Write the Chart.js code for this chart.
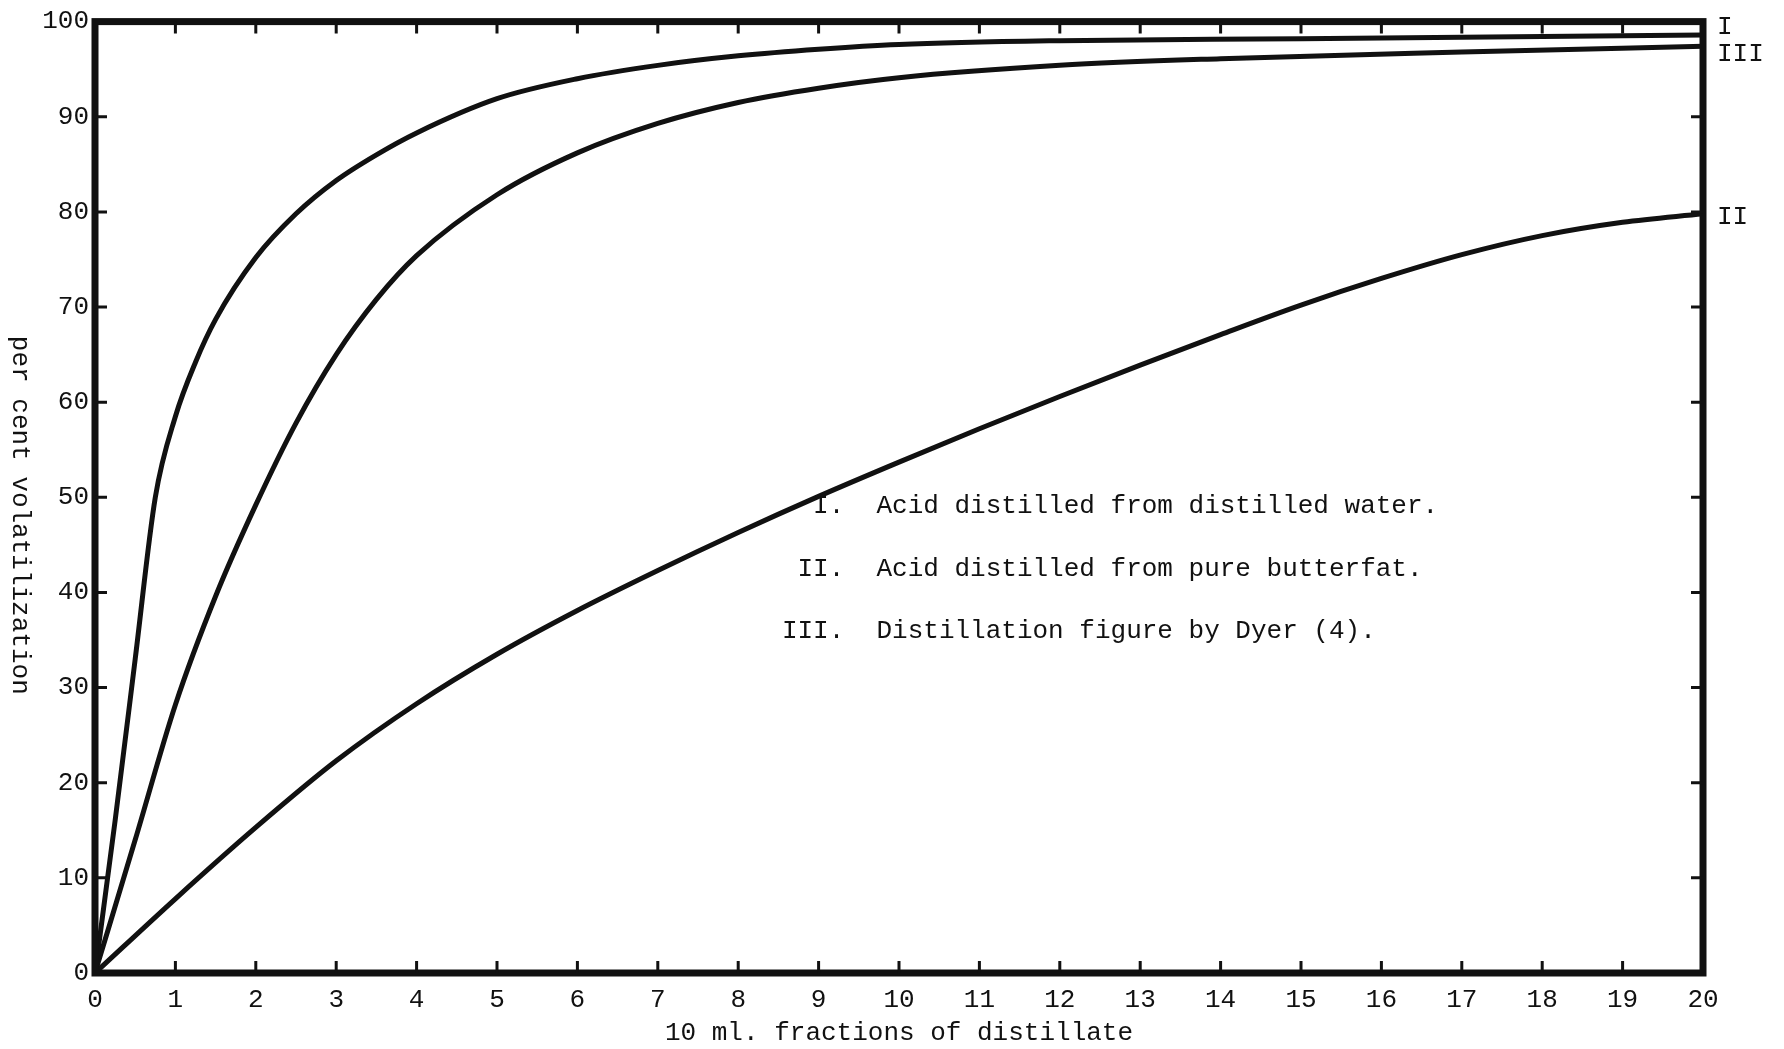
<!DOCTYPE html>
<html>
<head>
<meta charset="utf-8">
<script src="https://cdn.jsdelivr.net/npm/chart.js@4"></script>
<style>
  html, body { margin: 0; padding: 0; background: #fff; }
  #wrap { width: 1784px; height: 1049px; }
</style>
</head>
<body>
<div id="wrap"><canvas id="distChart"></canvas></div>
<script>
// I. acid distilled from distilled water
const xWater = [0, 0.25, 0.5, 0.75, 1, 1.25, 1.5, 2, 2.5, 3, 3.5, 4, 5, 6, 7, 8, 9, 10, 12, 15, 20];
const pctWater = [0, 16, 33, 50, 58.5, 64.2, 68.7, 75.2, 79.8, 83.3, 86, 88.3, 91.9, 94, 95.4, 96.4, 97.1, 97.6, 98, 98.2, 98.6];

// II. acid distilled from pure butterfat
const xButter = [0, 1, 2, 3, 4, 5, 6, 7, 8, 9, 10, 11, 12, 13, 14, 15, 16, 17, 18, 19, 20];
const pctButter = [0, 7.8, 15.3, 22.3, 28.3, 33.5, 38.1, 42.3, 46.3, 50.1, 53.7, 57.2, 60.6, 63.9, 67.1, 70.2, 73, 75.5, 77.5, 78.9, 79.8];

// III. distillation figure by Dyer
const xDyer = [0, 0.5, 1, 1.5, 2, 2.5, 3, 3.5, 4, 5, 6, 7, 8, 9, 10, 12, 14, 17, 20];
const pctDyer = [0, 14, 28.2, 39.6, 49.2, 57.8, 65, 70.8, 75.4, 81.8, 86.2, 89.3, 91.5, 93, 94.1, 95.4, 96.1, 96.8, 97.4];

const curveNames = ['I', 'II', 'III'];
const legendNums = ['I.', 'II.', 'III.'];
const legendTexts = [
  'Acid distilled from distilled water.',
  'Acid distilled from pure butterfat.',
  'Distillation figure by Dyer (4).'
];
const yTitle = 'per cent volatilization';
const xTitle = '10 ml. fractions of distillate';

const typeFont = "'Liberation Mono', 'DejaVu Sans Mono', monospace";
const ink = '#111';

function toPoints(xs, ys) {
  return xs.map((x, i) => ({ x: x, y: ys[i] }));
}

const datasets = [
  { label: curveNames[0], data: toPoints(xWater, pctWater) },
  { label: curveNames[1], data: toPoints(xButter, pctButter) },
  { label: curveNames[2], data: toPoints(xDyer, pctDyer) }
].map(d => Object.assign(d, {
  borderColor: ink,
  borderWidth: 5,
  pointRadius: 0,
  fill: false,
  cubicInterpolationMode: 'monotone'
}));

// frame, inward ticks, rotated y title, curve labels and the key
const paperPlugin = {
  id: 'paper',
  afterDraw(chart) {
    const ctx = chart.ctx;
    const a = chart.chartArea;
    const xs = chart.scales.x;
    const ys = chart.scales.y;
    ctx.save();
    ctx.strokeStyle = ink;
    ctx.fillStyle = ink;

    // frame
    ctx.lineWidth = 7;
    ctx.strokeRect(a.left, a.top, a.right - a.left, a.bottom - a.top);

    // inward tick marks
    ctx.lineWidth = 3;
    ctx.beginPath();
    for (let v = 1; v < 20; v++) {
      const px = xs.getPixelForValue(v);
      ctx.moveTo(px, a.bottom); ctx.lineTo(px, a.bottom - 12);
      ctx.moveTo(px, a.top); ctx.lineTo(px, a.top + 12);
    }
    for (let v = 10; v < 100; v += 10) {
      const py = ys.getPixelForValue(v);
      ctx.moveTo(a.left, py); ctx.lineTo(a.left + 12, py);
      ctx.moveTo(a.right, py); ctx.lineTo(a.right - 12, py);
    }
    ctx.stroke();

    ctx.font = '26px ' + typeFont;

    // y title, reading top to bottom
    ctx.save();
    ctx.translate(20, (a.top + a.bottom) / 2 + 18);
    ctx.rotate(Math.PI / 2);
    ctx.textAlign = 'center';
    ctx.textBaseline = 'middle';
    ctx.fillText(yTitle, 0, 0);
    ctx.restore();

    // curve names at the right end of each line
    const nudge = [-8, 3, 8];
    ctx.textAlign = 'left';
    ctx.textBaseline = 'middle';
    chart.data.datasets.forEach((ds, i) => {
      const last = ds.data[ds.data.length - 1];
      ctx.fillText(ds.label, a.right + 14, ys.getPixelForValue(last.y) + nudge[i]);
    });

    // key inside the plot
    const w = a.right - a.left;
    const h = a.bottom - a.top;
    const rows = [0.509, 0.575, 0.641];
    legendTexts.forEach((t, i) => {
      const py = a.top + rows[i] * h;
      ctx.textAlign = 'right';
      ctx.fillText(legendNums[i], a.left + 0.466 * w, py);
      ctx.textAlign = 'left';
      ctx.fillText(t, a.left + 0.486 * w, py);
    });
    ctx.restore();
  }
};

new Chart(document.getElementById('distChart'), {
  type: 'line',
  data: { datasets: datasets },
  options: {
    responsive: true,
    maintainAspectRatio: false,
    animation: false,
    layout: { padding: { left: 0, top: 18, right: 81, bottom: 0 } },
    plugins: {
      legend: { display: false },
      tooltip: { enabled: false }
    },
    scales: {
      x: {
        type: 'linear',
        min: 0,
        max: 20,
        afterFit: s => { s.height = 76; },
        grid: { display: false, drawTicks: false },
        border: { display: false },
        ticks: {
          stepSize: 1,
          autoSkip: false,
          maxRotation: 0,
          padding: 12,
          color: ink,
          font: { family: typeFont, size: 26 }
        },
        title: {
          display: true,
          text: xTitle,
          color: ink,
          padding: { top: 0, bottom: 0 },
          font: { family: typeFont, size: 26 }
        }
      },
      y: {
        min: 0,
        max: 100,
        afterFit: s => { s.width = 95; },
        grid: { display: false, drawTicks: false },
        border: { display: false },
        ticks: {
          stepSize: 10,
          padding: 6,
          color: ink,
          font: { family: typeFont, size: 26 }
        }
      }
    }
  },
  plugins: [paperPlugin]
});
</script>
</body>
</html>
